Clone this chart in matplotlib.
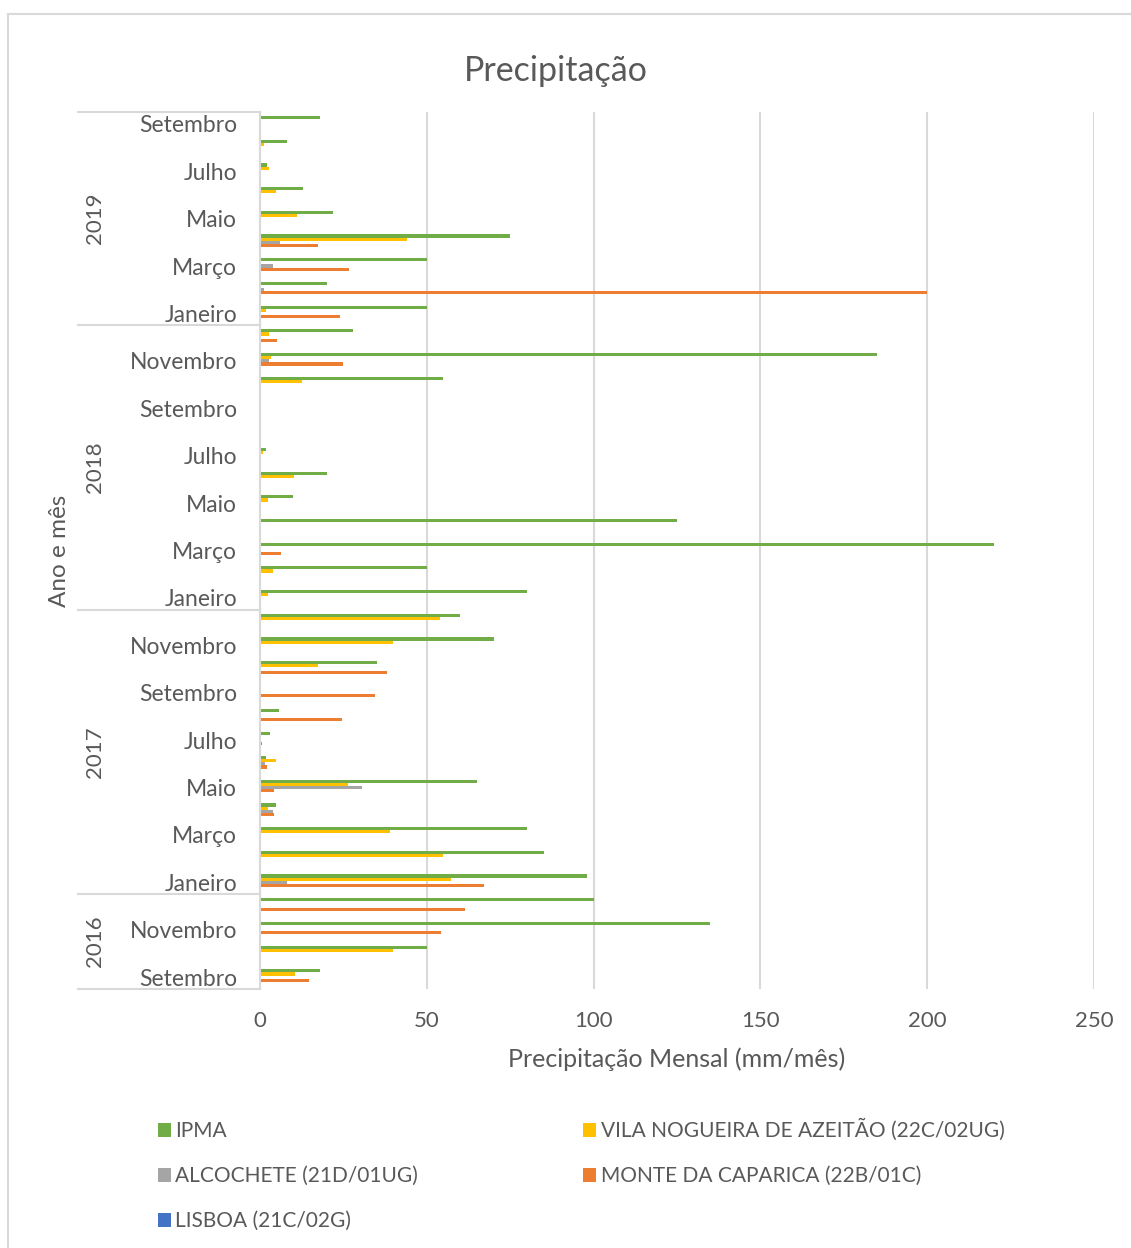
import numpy as np
import matplotlib.pyplot as plt
from matplotlib.lines import Line2D
from matplotlib.patches import Patch

plt.rcParams["font.family"] = ["Lato", "DejaVu Sans"]
TXT = "#595959"
GRID = "#D9D9D9"

# months from Setembro 2016 to Setembro 2019 (bottom to top)
months = ["Setembro", "Outubro", "Novembro", "Dezembro"] + [
    "Janeiro", "Fevereiro", "Março", "Abril", "Maio", "Junho",
    "Julho", "Agosto", "Setembro", "Outubro", "Novembro", "Dezembro"] * 2 + [
    "Janeiro", "Fevereiro", "Março", "Abril", "Maio", "Junho",
    "Julho", "Agosto", "Setembro"]
years = ["2016", "2017", "2018", "2019"]
year_len = [4, 12, 12, 9]

series_names = ["IPMA", "VILA NOGUEIRA DE AZEITÃO (22C/02UG)",
                "ALCOCHETE (21D/01UG)", "MONTE DA CAPARICA (22B/01C)",
                "LISBOA (21C/02G)"]
colors = ["#70AD47", "#FFC000", "#A5A5A5", "#ED7D31", "#4472C4"]

ipma = [18, 50, 135, 100, 98, 85, 80, 4.9, 65, 1.8, 2.9, 5.8, 0, 35, 70, 60,
        80, 50, 220, 125, 10, 20, 1.8, 0, 0, 55, 185, 28,
        50, 20, 50, 75, 22, 13, 2, 8, 18]
vila = [10.5, 40, 0, 0, 57.4, 55, 39, 2.3, 26.5, 4.8, 0, 0, 0, 17.4, 40, 54,
        2.3, 3.8, 0, 0, 2.4, 10.2, 0.8, 0.3, 0.3, 12.7, 3.4, 2.7,
        1.9, 0, 0, 44, 11, 4.8, 2.6, 1.3, 0]
alcochete = [0, 0, 0, 0, 8.2, 0, 0, 3.9, 30.6, 1.4, 0, 0, 0, 0, 0, 0,
             0, 0, 0, 0, 0, 0, 0, 0, 0, 0, 2.7, 0,
             0, 1.1, 3.9, 6.1, 0, 0, 0, 0, 0]
monte = [14.7, 0, 54.3, 61.5, 67.2, 0, 0, 4.2, 4.2, 2.2, 0.6, 24.7, 34.4, 38, 0, 0,
         0.3, 0, 6.3, 0, 0, 0, 0, 0, 0, 0, 25, 5.2,
         24, 200, 26.7, 17.4, 0, 0, 0, 0, 0]
lisboa = [0] * 37

data = [ipma, vila, alcochete, monte, lisboa]

fig = plt.figure(figsize=(11.31, 12.48), dpi=100)
ax = fig.add_axes([260 / 1131, 1 - 989 / 1248, 834 / 1131, 877 / 1248])

y = np.arange(len(months))
h = 0.133
for i, (vals, col) in enumerate(zip(data, colors)):
    ax.barh(y + (2 - i) * h, vals, height=h, color=col, label=series_names[i])

ax.set_xlim(0, 250)
ax.set_ylim(-0.5, len(months) - 0.5)
ax.set_xticks([0, 50, 100, 150, 200, 250])
ax.xaxis.grid(True, color=GRID, lw=1.5)
ax.set_axisbelow(True)
for s in ["top", "right", "bottom"]:
    ax.spines[s].set_visible(False)
ax.spines["left"].set_color(GRID)
ax.spines["left"].set_linewidth(1.5)

ax.set_yticks(y[::2])
ax.set_yticklabels(months[::2])
ax.tick_params(axis="y", length=0, pad=16.5, labelsize=16.5, labelcolor=TXT)
ax.tick_params(axis="x", length=0, pad=15.5, labelsize=16, labelcolor=TXT)
ax.set_xlabel("Precipitação Mensal (mm/mês)", fontsize=18, color=TXT, labelpad=12)

# year level of the category axis
trans = ax.get_yaxis_transform()
bounds = np.concatenate([[0], np.cumsum(year_len)]) - 0.5
for b in bounds:
    ax.plot([-0.218, 0], [b, b], transform=trans, color=GRID, lw=1.5, clip_on=False)
for yr, lo, hi in zip(years, bounds[:-1], bounds[1:]):
    ax.text(-0.198, (lo + hi) / 2, yr, transform=trans, rotation=90,
            ha="center", va="center", fontsize=16, color=TXT)
ax.text(-0.241, (len(months) - 1) / 2, "Ano e mês", transform=trans, rotation=90,
        ha="center", va="center", fontsize=17.5, color=TXT)

fig.text(556 / 1131, 1 - 71 / 1248, "Precipitação", ha="center", va="center",
         fontsize=24.5, color=TXT)

# legend, filled column-wise
order = [0, 2, 4, 1, 3]
handles = [Patch(facecolor=colors[k]) for k in order]
labels = [series_names[k] for k in order]
fig.legend(handles, labels, ncol=2, loc="upper left",
           bbox_to_anchor=(139 / 1131, 1 - 1100 / 1248), frameon=False,
           fontsize=15, labelcolor=TXT, handlelength=0.65, handleheight=0.65,
           handletextpad=0.2, columnspacing=7.9, labelspacing=1.2)

# chart border
fig.add_artist(Line2D([8 / 1131, 1], [1 - 14 / 1248] * 2, color=GRID, lw=1.5))
fig.add_artist(Line2D([8 / 1131] * 2, [0, 1 - 14 / 1248], color=GRID, lw=1.5))

fig.savefig("out.png", dpi=100)
